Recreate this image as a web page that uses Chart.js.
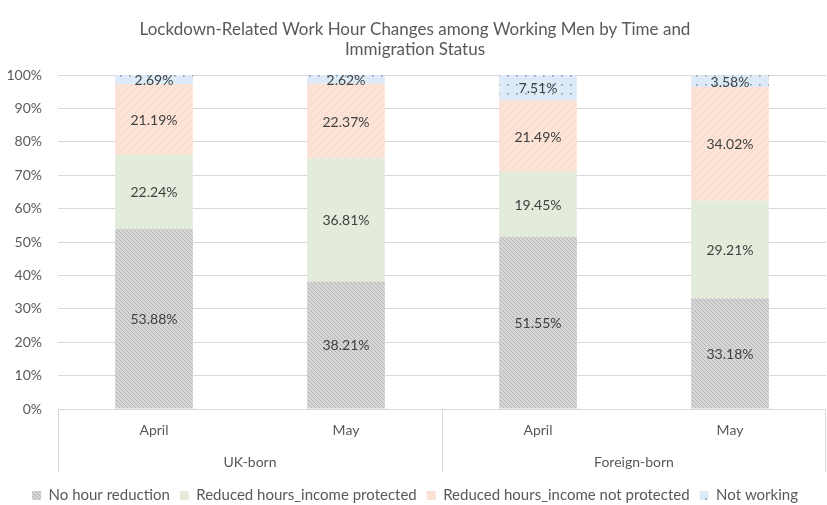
<!DOCTYPE html>
<html>
<head>
<meta charset="utf-8">
<script src="https://cdn.jsdelivr.net/npm/chart.js@4"></script>
<style>
  html, body { margin: 0; padding: 0; background: #fff; }
  #wrap { width: 827px; height: 505px; }
</style>
</head>
<body>
<div id="wrap"><canvas id="chart"></canvas></div>
<script>
// values (percent of working men)
const categories = ['April', 'May', 'April', 'May'];
const groups = ['UK-born', 'Foreign-born'];
const noReduction = [53.88, 38.21, 51.55, 33.18];
const incomeProtected = [22.24, 36.81, 19.45, 29.21];
const incomeNotProtected = [21.19, 22.37, 21.49, 34.02];
const notWorking = [2.69, 2.62, 7.51, 3.58];
const seriesNames = ['No hour reduction', 'Reduced hours_income protected', 'Reduced hours_income not protected', 'Not working'];

const FONT = 'Lato, "Open Sans", sans-serif';
const TEXT = '#595959';

// small tiles for the excel-like fills
function makePattern(bg, size, draw) {
    const c = document.createElement('canvas');
    c.width = size; c.height = size;
    const ctx = c.getContext('2d');
    ctx.fillStyle = bg;
    ctx.fillRect(0, 0, size, size);
    if (draw) draw(ctx, size);
    return ctx.createPattern(c, 'repeat');
}

function diagonal(color, up) {
    return (ctx, s) => {
        ctx.strokeStyle = color;
        ctx.lineWidth = 1;
        ctx.beginPath();
        [-s, 0, s].forEach(k => {
            if (up) { ctx.moveTo(k, s); ctx.lineTo(k + s, 0); }
            else { ctx.moveTo(k, 0); ctx.lineTo(k + s, s); }
        });
        ctx.stroke();
    };
}

const grayHatch = makePattern('#d6d6d6', 4, diagonal('#b6b6b6', false));
const greenFill = makePattern('#e3ecdb', 4, null);
const peachStripe = makePattern('#fbe4d7', 8, diagonal('#f7d6c4', true));
const blueDots = makePattern('#dcebf7', 9, (ctx) => {
    ctx.fillStyle = '#8798aa';
    ctx.fillRect(3, 3, 1.6, 1.6);
});

const segmentLabels = {
    id: 'segmentLabels',
    afterDatasetsDraw(chart) {
        const ctx = chart.ctx;
        ctx.save();
        ctx.font = '14px ' + FONT;
        ctx.fillStyle = '#404040';
        ctx.textAlign = 'center';
        ctx.textBaseline = 'middle';
        chart.data.datasets.forEach((ds, i) => {
            chart.getDatasetMeta(i).data.forEach((bar, j) => {
                const y = (bar.y + bar.base) / 2;
                ctx.fillText(ds.data[j].toFixed(2) + '%', bar.x, y + 1);
            });
        });
        ctx.restore();
    }
};

// second row of the category axis: group names and separators
const groupAxis = {
    id: 'groupAxis',
    afterDraw(chart) {
        const xs = chart.scales.x;
        const ctx = chart.ctx;
        const mid = (xs.getPixelForValue(1) + xs.getPixelForValue(2)) / 2;
        ctx.save();
        ctx.strokeStyle = '#d9d9d9';
        ctx.lineWidth = 1;
        ctx.beginPath();
        [xs.left, mid, xs.right - 1].forEach(x => {
            const px = Math.round(x) + 0.5;
            ctx.moveTo(px, xs.top);
            ctx.lineTo(px, xs.top + 63);
        });
        ctx.stroke();
        ctx.font = '14px ' + FONT;
        ctx.fillStyle = TEXT;
        ctx.textAlign = 'center';
        ctx.textBaseline = 'middle';
        groups.forEach((g, k) => {
            const cx = (xs.getPixelForValue(2 * k) + xs.getPixelForValue(2 * k + 1)) / 2;
            ctx.fillText(g, cx, xs.top + 53);
        });
        ctx.restore();
    }
};

const data = {
    labels: categories,
    datasets: [
        { label: seriesNames[0], data: noReduction, backgroundColor: grayHatch },
        { label: seriesNames[1], data: incomeProtected, backgroundColor: greenFill },
        { label: seriesNames[2], data: incomeNotProtected, backgroundColor: peachStripe },
        { label: seriesNames[3], data: notWorking, backgroundColor: blueDots }
    ]
};

new Chart(document.getElementById('chart'), {
    type: 'bar',
    data: data,
    plugins: [segmentLabels, groupAxis],
    options: {
        responsive: true,
        maintainAspectRatio: false,
        animation: false,
        layout: { padding: { left: 4, right: 1, top: 0, bottom: -8 } },
        datasets: { bar: { categoryPercentage: 1, barPercentage: 0.405 } },
        plugins: {
            title: {
                display: true,
                text: ['Lockdown-Related Work Hour Changes among Working Men by Time and', 'Immigration Status'],
                color: TEXT,
                font: { family: FONT, size: 17, weight: 'normal', lineHeight: 1.15 },
                padding: { top: 20, bottom: 16 }
            },
            legend: {
                position: 'bottom',
                labels: {
                    boxWidth: 9, boxHeight: 9, padding: 10,
                    color: TEXT,
                    font: { family: FONT, size: 15 }
                }
            },
            tooltip: { enabled: false }
        },
        scales: {
            x: {
                stacked: true,
                grid: { display: false },
                border: { display: false },
                ticks: { color: TEXT, font: { family: FONT, size: 14 }, padding: 5 },
                afterFit(scale) { scale.height = 69; }
            },
            y: {
                stacked: true,
                min: 0,
                max: 100,
                border: { display: false },
                grid: { color: '#d9d9d9', drawTicks: false },
                ticks: {
                    stepSize: 10,
                    padding: 16,
                    color: TEXT,
                    font: { family: FONT, size: 14 },
                    callback: v => v + '%'
                },
                afterFit(scale) { scale.width = 54; }
            }
        }
    }
});
</script>
</body>
</html>
